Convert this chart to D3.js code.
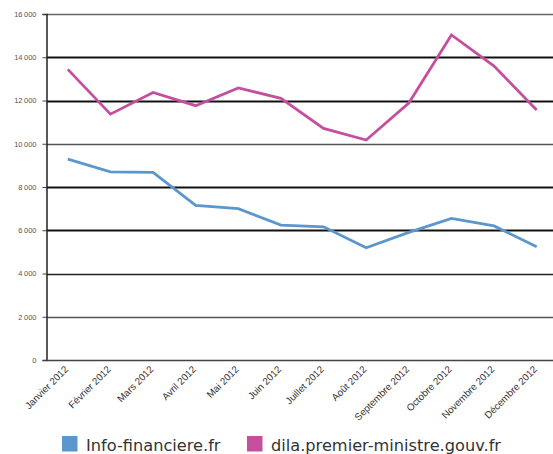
<!DOCTYPE html>
<html>
<head>
<meta charset="utf-8">
<script src="https://cdn.jsdelivr.net/npm/d3@7"></script>
<style>
  html, body { margin: 0; padding: 0; background: #fff; }
  svg { display: block; font-family: "Open Sans", "DejaVu Sans", sans-serif; }
</style>
</head>
<body>
<div id="chart"></div>
<script>
// Monthly figures, 2012
const months = ["Janvier 2012", "Février 2012", "Mars 2012", "Avril 2012", "Mai 2012", "Juin 2012",
  "Juillet 2012", "Août  2012", "Septembre 2012", "Octobre 2012", "Novembre 2012", "Décembre 2012"];
const infoFinanciere = [9290, 8700, 8680, 7150, 7000, 6240, 6160, 5190, 5900, 6550, 6200, 5240];
const dilaPremierMinistre = [13440, 11370, 12370, 11760, 12580, 12100, 10710, 10170, 11880, 15030, 13590, 11560];
const yTicks = [0, 2000, 4000, 6000, 8000, 10000, 12000, 14000, 16000];
const seriesNames = ["Info-financiere.fr", "dila.premier-ministre.gouv.fr"];
const seriesColors = ["#5b96cc", "#c54f9f"];

const W = 553, H = 454;
const margin = { left: 46.5, top: 14, bottom: 94 };
const plotRight = 558;

const svg = d3.select("#chart").append("svg").attr("width", W).attr("height", H);

const x = d3.scaleBand().domain(months).range([margin.left, plotRight]);
const y = d3.scaleLinear().domain([0, 16000]).range([H - margin.bottom, margin.top]);

// Horizontal gridlines
const gridStyle = { 16000: ["#666", 1.3], 14000: ["#111", 2.2], 12000: ["#111", 2.2], 10000: ["#555", 1.5],
  8000: ["#111", 2.2], 6000: ["#111", 2.2], 4000: ["#222", 1.6], 2000: ["#555", 1.4] };
svg.append("g").selectAll("line").data(yTicks.filter(d => d > 0)).join("line")
  .attr("x1", margin.left).attr("x2", W)
  .attr("y1", d => Math.round(y(d)) + 0.5).attr("y2", d => Math.round(y(d)) + 0.5)
  .attr("stroke", d => gridStyle[d][0]).attr("stroke-width", d => gridStyle[d][1]);

// Y axis
const fmt = d => d3.format(",")(d).replace(/,/g, "\u2009");
const yAxis = svg.append("g").attr("transform", `translate(${margin.left},0)`)
  .call(d3.axisLeft(y).tickValues(yTicks).tickSize(4).tickPadding(6).tickFormat(fmt)
    .offset(0.5));
yAxis.select(".domain").attr("stroke", "#222").attr("stroke-width", 1.5);
yAxis.selectAll(".tick line").attr("stroke", "#444");
yAxis.selectAll(".tick text").attr("fill", "#555").style("font-size", "7.5px");

// X axis
const xAxis = svg.append("g").attr("transform", `translate(0,${y(0)})`)
  .call(d3.axisBottom(x).tickSize(0).tickPadding(0));
xAxis.select(".domain").attr("stroke", "#444").attr("stroke-width", 1.5);
xAxis.selectAll(".tick text")
  .attr("fill", "#333").style("font-size", "9.8px")
  .attr("text-anchor", "end")
  .attr("dy", 0)
  .attr("transform", "translate(1,10) rotate(-45)");

// Series lines
const line = d3.line().x((d, i) => x(months[i]) + x.bandwidth() / 2).y(d => y(d));
[infoFinanciere, dilaPremierMinistre].forEach((vals, k) => {
  svg.append("path").datum(vals)
    .attr("fill", "none")
    .attr("stroke", seriesColors[k])
    .attr("stroke-width", 2.8)
    .attr("stroke-linejoin", "miter")
    .attr("d", line);
});

// Legend
const legendX = [62, 247];
const legend = svg.append("g");
seriesNames.forEach((name, k) => {
  legend.append("rect")
    .attr("x", legendX[k]).attr("y", 436)
    .attr("width", 15.5).attr("height", 15.5)
    .attr("fill", seriesColors[k]);
  legend.append("text")
    .attr("x", legendX[k] + 24).attr("y", 451)
    .attr("fill", "#333")
    .style("font-size", "16.2px")
    .style("font-family", "'DejaVu Sans', Verdana, sans-serif")
    .text(name);
});
</script>
</body>
</html>
